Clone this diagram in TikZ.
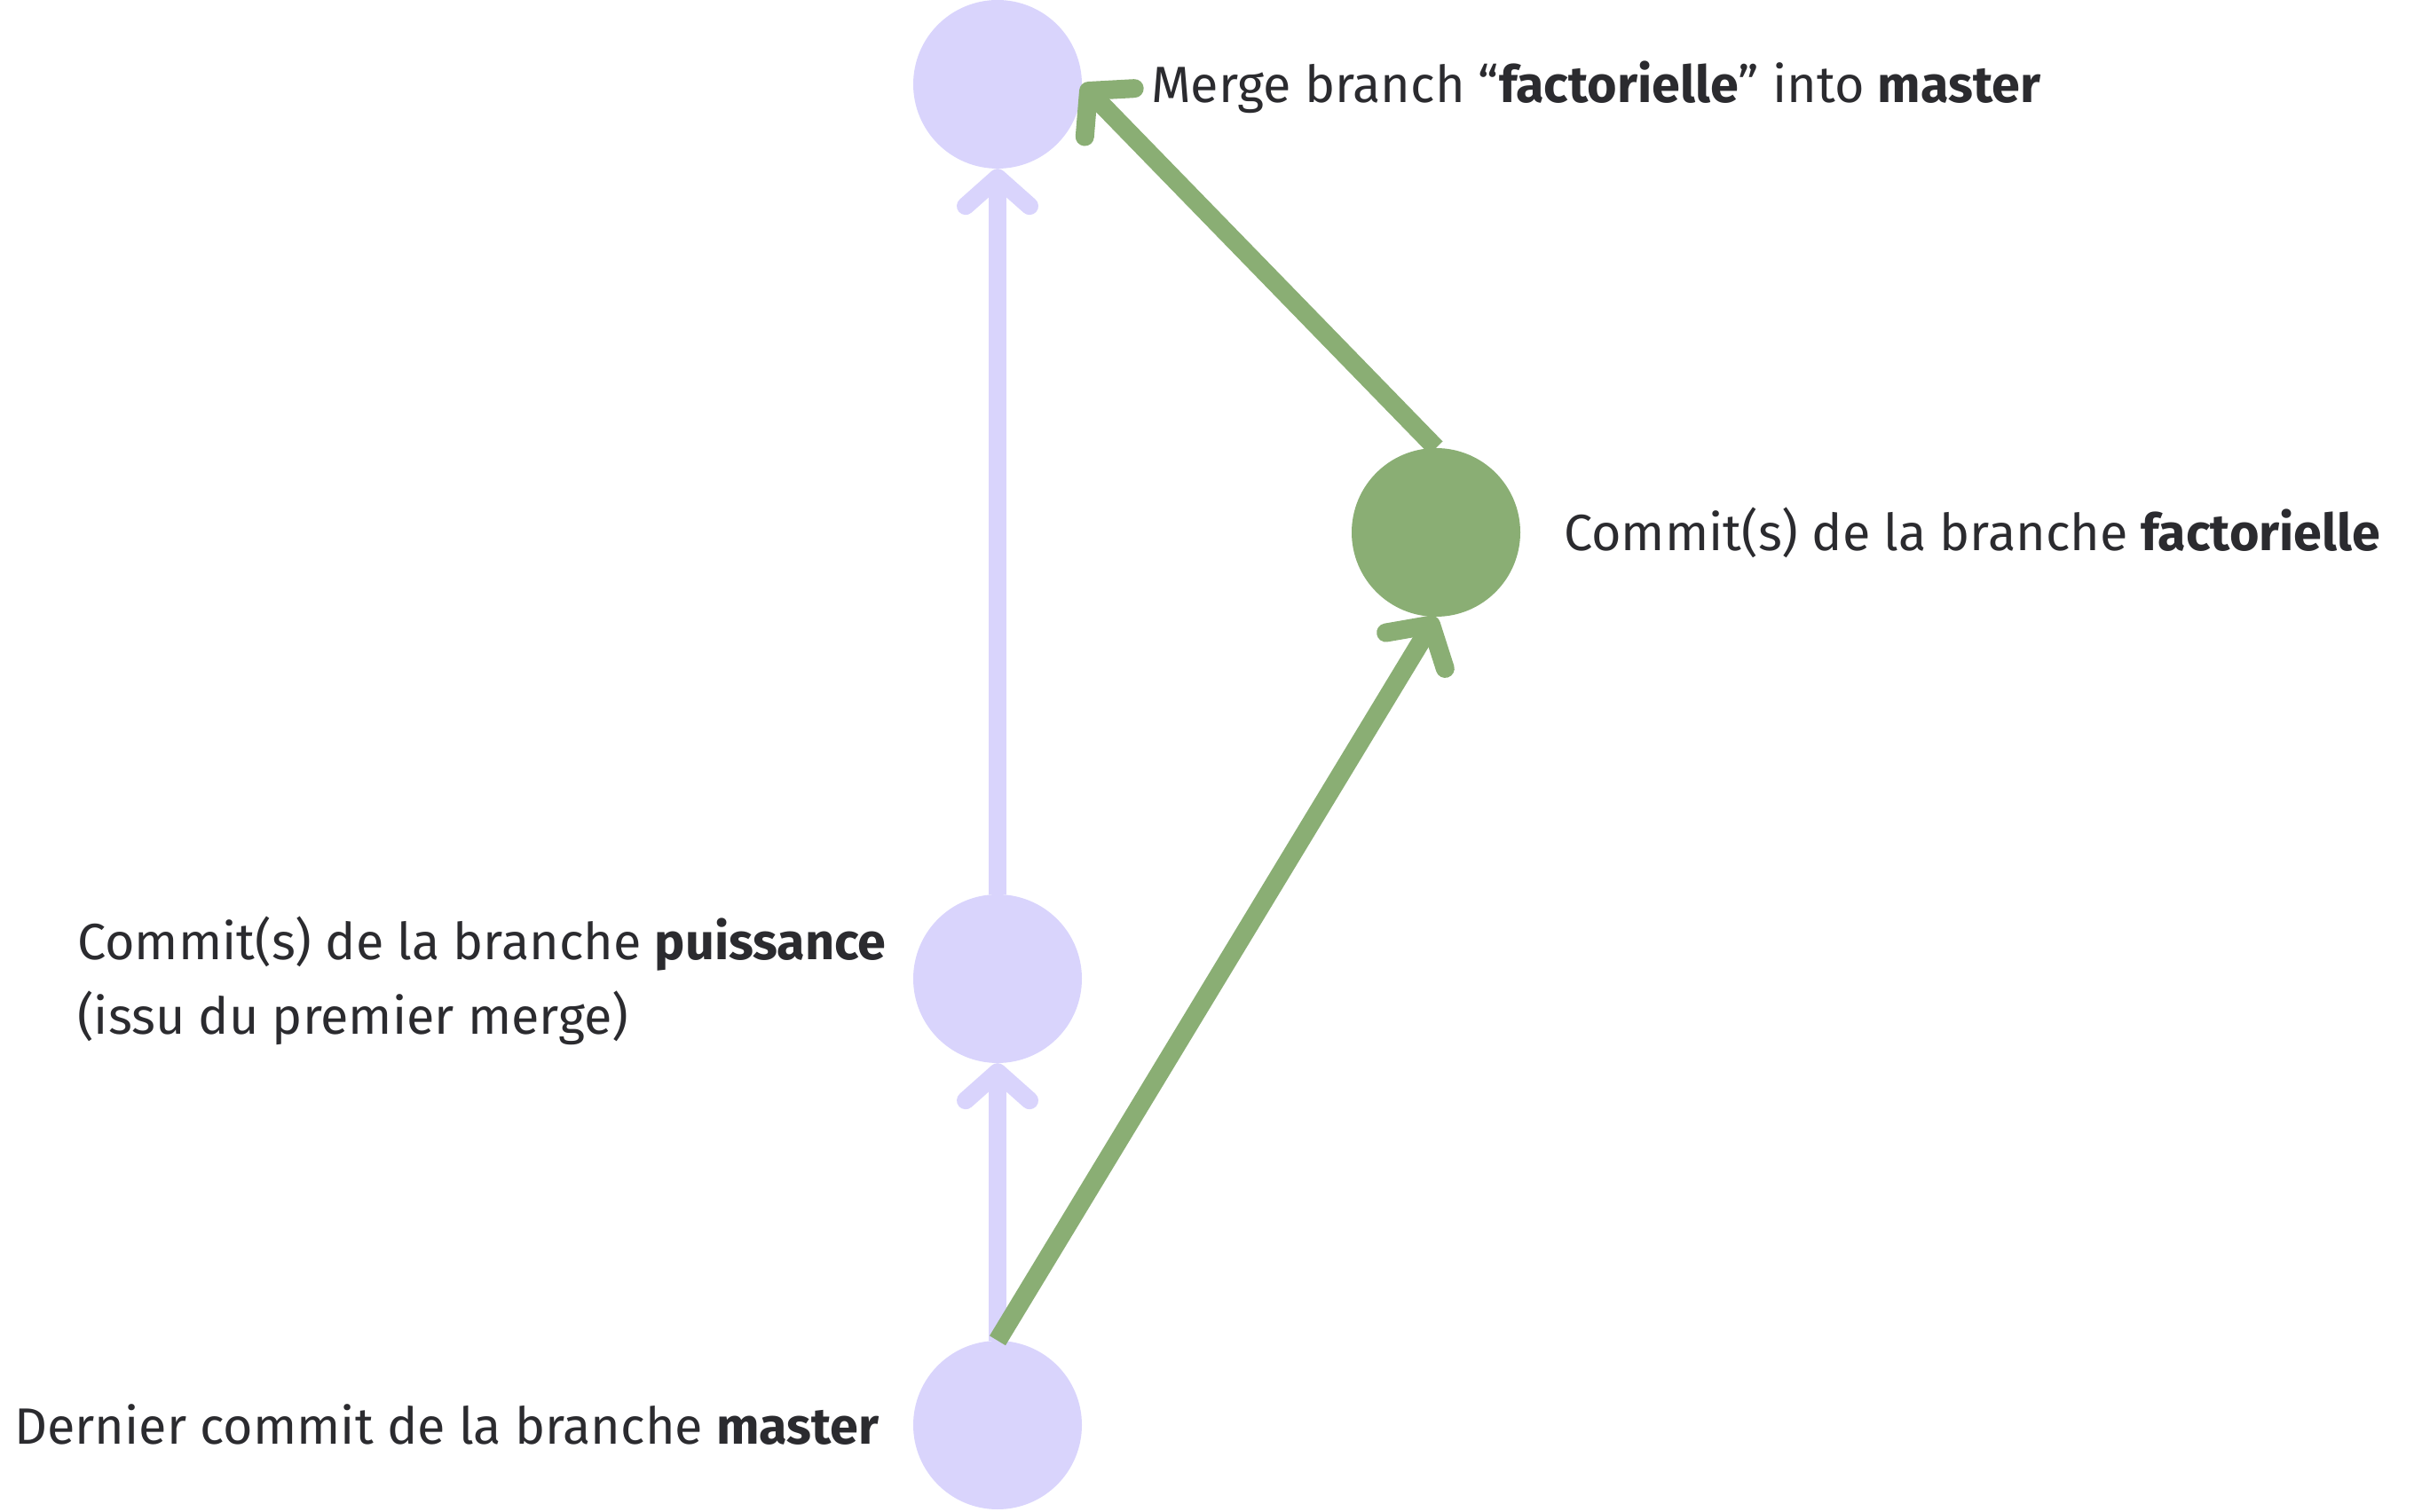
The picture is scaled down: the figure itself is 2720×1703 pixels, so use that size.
\documentclass[tikz,border=0pt]{standalone}
\usepackage{fontspec}
\setmainfont{Fira Sans}
\usetikzlibrary{arrows.meta}
\definecolor{lav}{HTML}{D9D4FC}
\definecolor{grn}{HTML}{8AAE74}
\definecolor{txt}{HTML}{2B2B2F}
\tikzset{
  commit/.style={circle, minimum size=190pt, inner sep=0pt, draw=none},
  lavcommit/.style={commit, fill=lav},
  grncommit/.style={commit, fill=grn},
  lavarrow/.style={draw=lav, line width=20pt, -{Straight Barb[length=32pt, width=72pt, round]}},
  grnarrow/.style={draw=grn, line width=21pt, -{Straight Barb[length=34pt, width=78pt, round]}},
  lbl/.style={anchor=base west, inner sep=0pt, text=txt, font=\fontsize{57.5}{68}\selectfont}
}
\begin{document}
\begin{tikzpicture}[x=1pt,y=1pt]
\useasboundingbox (0,0) rectangle (2720,1703);
\node[lavcommit] (top) at (1124,1608) {};
\node[lavcommit] (mid) at (1124,600) {};
\node[lavcommit] (bot) at (1124,97) {};
\node[grncommit] (fac) at (1618,1103) {};
\draw[lavarrow] (bot.north) -- (mid.south);
\draw[lavarrow] (mid.north) -- (top.south);
\draw[grnarrow] (bot.north) -- (fac.south);
\draw[grnarrow] (fac.north) -- (top.east);
\node[lbl] (tmerge) at (1297,1587) {Merge branch “\textbf{factorielle}” into \textbf{master}};
\node[lbl] (tfac) at (1762,1082) {Commit(s) de la branche \textbf{factorielle}};
\node[lbl] (tpui) at (87,621) {Commit(s) de la branche \textbf{puissance}};
\node[lbl] (tissu) at (87,537) {(issu du premier merge)};
\node[lbl] (tdern) at (16,76) {Dernier commit de la branche \textbf{master}};
\end{tikzpicture}
\end{document}
